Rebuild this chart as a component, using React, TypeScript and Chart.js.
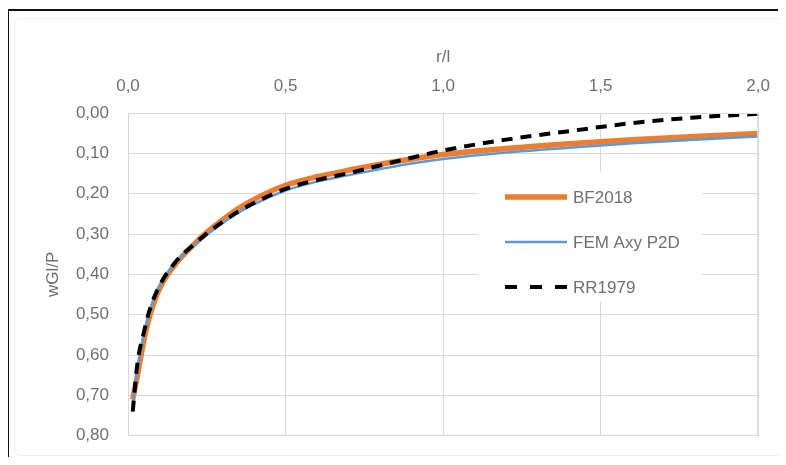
import { useEffect, useRef } from "react";
import { Chart, registerables } from "chart.js";

Chart.register(...registerables);

// r/l values (shared by all series)
const R_OVER_L = [0.015, 0.03, 0.05, 0.07, 0.1, 0.15, 0.2, 0.25, 0.3, 0.35, 0.4, 0.5, 0.6, 0.7, 0.8, 0.9, 1.0, 1.2, 1.4, 1.6, 1.8, 2.0];

// wGl/P values
const BF2018 = [0.71, 0.65, 0.565, 0.5, 0.435, 0.375, 0.333, 0.296, 0.265, 0.237, 0.214, 0.179, 0.158, 0.142, 0.127, 0.114, 0.103, 0.088, 0.076, 0.066, 0.058, 0.051];
const FEM_AXY_P2D = [0.725, 0.635, 0.55, 0.49, 0.43, 0.372, 0.335, 0.302, 0.273, 0.247, 0.226, 0.192, 0.17, 0.154, 0.139, 0.125, 0.114, 0.098, 0.086, 0.075, 0.066, 0.058];
const RR1979 = [0.74, 0.62, 0.545, 0.485, 0.428, 0.37, 0.332, 0.299, 0.27, 0.244, 0.223, 0.188, 0.166, 0.149, 0.13, 0.111, 0.093, 0.066, 0.045, 0.025, 0.011, 0.002];

const SERIES_NAMES = ["BF2018", "FEM Axy P2D", "RR1979"];
const X_TITLE = "r/l";
const Y_TITLE = "wGl/P";

const FONT = '"Liberation Sans", Arial, sans-serif';
const TEXT = "#707070";
const GRID = "#dcd6d6";
const COLORS = ["#ed7d31", "#5b9bd5", "#000000"];
const WIDTHS = [5.5, 2.5, 4];
const DASHES: number[][] = [[], [], [11, 8]];

const toPts = (ys: number[]) => R_OVER_L.map((x, i) => ({ x, y: ys[i] }));

const insideLegend = {
  id: "insideLegend",
  afterDatasetsDraw(chart: any) {
    const ctx = chart.ctx;
    ctx.save();
    ctx.fillStyle = "#ffffff";
    ctx.fillRect(478, 172, 224, 130);
    const rows = [197, 242, 287];
    SERIES_NAMES.forEach((name, i) => {
      ctx.beginPath();
      ctx.strokeStyle = COLORS[i];
      ctx.lineWidth = WIDTHS[i];
      ctx.setLineDash(i === 2 ? [12, 13] : DASHES[i]);
      ctx.moveTo(505, rows[i]);
      ctx.lineTo(567, rows[i]);
      ctx.stroke();
      ctx.setLineDash([]);
      ctx.fillStyle = TEXT;
      ctx.font = `17px ${FONT}`;
      ctx.textAlign = "left";
      ctx.textBaseline = "middle";
      ctx.fillText(name, 573, rows[i] + 1);
    });
    ctx.restore();
  },
};

const frame = {
  id: "frame",
  afterDraw(chart: any) {
    const ctx = chart.ctx;
    const a = chart.chartArea;
    ctx.save();
    // plot area border
    ctx.strokeStyle = GRID;
    ctx.lineWidth = 1;
    ctx.strokeRect(a.left + 0.5, a.top + 0.5, a.right - a.left - 1, a.bottom - a.top - 1);
    // faint chart box
    ctx.strokeStyle = "#ececec";
    ctx.beginPath();
    ctx.roundRect(14.5, 18.5, 768, 437, 6);
    ctx.stroke();
    // black outer frame (top and left)
    ctx.fillStyle = "#111111";
    ctx.fillRect(6, 9, chart.width - 6, 2);
    ctx.fillRect(6, 9, 3, chart.height - 9);
    ctx.restore();
  },
};

export default function App() {
  const ref = useRef<HTMLCanvasElement | null>(null);

  useEffect(() => {
    if (!ref.current) return;
    const series = [BF2018, FEM_AXY_P2D, RR1979];
    const chart = new Chart(ref.current, {
      type: "line",
      data: {
        datasets: series.map((ys, i) => ({
          label: SERIES_NAMES[i],
          data: toPts(ys),
          borderColor: COLORS[i],
          backgroundColor: COLORS[i],
          borderWidth: WIDTHS[i],
          borderDash: DASHES[i],
          pointRadius: 0,
          fill: false,
          cubicInterpolationMode: "monotone" as const,
          order: 3 - i,
        })),
      },
      options: {
        responsive: false,
        animation: false,
        devicePixelRatio: 1,
        layout: { padding: { left: 20, top: 20, right: 26, bottom: 21 } },
        plugins: { legend: { display: false }, tooltip: { enabled: false } },
        scales: {
          x: {
            type: "linear",
            position: "top",
            min: 0,
            max: 2,
            afterFit: (s: any) => { s.height = 93; },
            ticks: {
              stepSize: 0.5,
              color: TEXT,
              font: { family: FONT, size: 17 },
              padding: 16,
              maxRotation: 0,
              callback: (v: any) => Number(v).toFixed(1).replace(".", ","),
            },
            grid: { color: GRID, drawTicks: false, lineWidth: 1 },
            border: { color: GRID },
            title: {
              display: true,
              text: X_TITLE,
              color: TEXT,
              font: { family: FONT, size: 17 },
              padding: { top: 27, bottom: 0 },
            },
          },
          y: {
            type: "linear",
            reverse: true,
            min: 0,
            max: 0.8,
            afterFit: (s: any) => { s.width = 108; },
            ticks: {
              stepSize: 0.1,
              color: TEXT,
              font: { family: FONT, size: 17 },
              padding: 19,
              callback: (v: any) => Number(v).toFixed(2).replace(".", ","),
            },
            grid: { color: GRID, drawTicks: false, lineWidth: 1 },
            border: { color: GRID },
            title: {
              display: true,
              text: Y_TITLE,
              color: TEXT,
              font: { family: FONT, size: 17 },
              padding: { top: 23, bottom: 0 },
            },
          },
        },
      },
      plugins: [insideLegend, frame],
    } as any);
    return () => chart.destroy();
  }, []);

  return (
    <div style={{ position: "relative", width: 786, height: 465, margin: -8, overflow: "hidden", background: "#fff" }}>
      <canvas ref={ref} width={786} height={465} style={{ display: "block", width: 786, height: 465 }} />
    </div>
  );
}
